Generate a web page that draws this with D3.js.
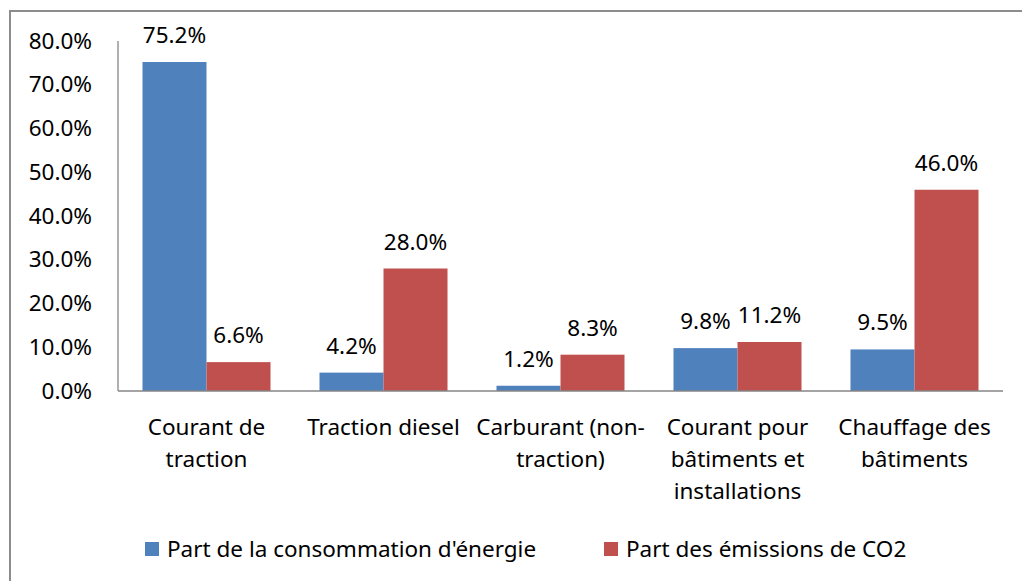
<!DOCTYPE html>
<html>
<head>
<meta charset="utf-8">
<script src="https://cdn.jsdelivr.net/npm/d3@7"></script>
<style>
  body { margin: 0; background: #fff; }
  svg { display: block; }
  text { font-family: "Noto Sans", sans-serif; fill: #000; }
</style>
</head>
<body>
<div id="chart"></div>
<script>
// Données du graphique
const categories = ["Courant de traction", "Traction diesel", "Carburant (non-traction)", "Courant pour bâtiments et installations", "Chauffage des bâtiments"];
const categoryLines = [["Courant de", "traction"], ["Traction diesel"], ["Carburant (non-", "traction)"], ["Courant pour", "bâtiments et", "installations"], ["Chauffage des", "bâtiments"]];
const seriesNames = ["Part de la consommation d'énergie", "Part des émissions de CO2"];
const energie = [75.2, 4.2, 1.2, 9.8, 9.5];
const co2 = [6.6, 28.0, 8.3, 11.2, 46.0];
const yTicks = [0, 10, 20, 30, 40, 50, 60, 70, 80];
const colors = ["#4F81BD", "#C0504D"];

const width = 1022, height = 581;
const plot = { l: 118, r: 1003, t: 41, b: 391 };
const fs = '22.5px';

const svg = d3.select('#chart').append('svg')
    .attr('width', width).attr('height', height);

// cadre
svg.append('rect')
    .attr('x', 10).attr('y', 11)
    .attr('width', width + 20).attr('height', height + 20)
    .attr('fill', 'none').attr('stroke', '#8c8c8c').attr('stroke-width', 2);

const x0 = d3.scaleBand().domain(categories).range([plot.l, plot.r]).padding(0);
const bw = x0.bandwidth();
const x1 = d3.scaleBand().domain(seriesNames).range([bw * 0.1384, bw * 0.8616]).padding(0);
const y = d3.scaleLinear().domain([0, 80]).range([plot.b, plot.t]);

// axe Y (étiquettes seulement)
const yAxis = svg.append('g')
    .attr('transform', `translate(${plot.l},0)`)
    .call(d3.axisLeft(y).tickValues(yTicks).tickSize(0).tickPadding(26)
        .tickFormat(d => d.toFixed(1) + '%'));
yAxis.select('.domain').remove();
yAxis.selectAll('text').style('font-size', fs).style('font-family', '"Noto Sans", sans-serif').attr('fill', '#000');

// barres
const data = categories.map((c, i) => ({ cat: c, vals: [energie[i], co2[i]] }));
const groups = svg.selectAll('.grp').data(data).enter().append('g')
    .attr('transform', d => `translate(${x0(d.cat)},0)`);

groups.selectAll('rect')
    .data(d => d.vals.map((v, k) => ({ name: seriesNames[k], v, k })))
    .enter().append('rect')
    .attr('x', d => x1(d.name))
    .attr('width', x1.bandwidth())
    .attr('y', d => y(d.v))
    .attr('height', d => y(0) - y(d.v))
    .attr('fill', d => colors[d.k]);

groups.selectAll('.lbl')
    .data(d => d.vals.map((v, k) => ({ name: seriesNames[k], v, k })))
    .enter().append('text')
    .attr('x', d => x1(d.name) + x1.bandwidth() / 2)
    .attr('y', d => y(d.v) - 19)
    .attr('text-anchor', 'middle')
    .style('font-size', fs)
    .text(d => d.v.toFixed(1) + '%');

// lignes d'axes
svg.append('line').attr('x1', plot.l).attr('x2', plot.l).attr('y1', plot.t).attr('y2', plot.b)
    .attr('stroke', '#868686').attr('stroke-width', 1.3);
svg.append('line').attr('x1', plot.l).attr('x2', plot.r).attr('y1', plot.b).attr('y2', plot.b)
    .attr('stroke', '#868686').attr('stroke-width', 1.3);

// étiquettes des catégories
categories.forEach((c, i) => {
    const t = svg.append('text')
        .attr('x', x0(c) + bw / 2)
        .attr('y', 435)
        .attr('text-anchor', 'middle')
        .style('font-size', fs);
    categoryLines[i].forEach((line, j) => {
        t.append('tspan').attr('x', x0(c) + bw / 2).attr('dy', j === 0 ? 0 : 32).text(line);
    });
});

// légende
const legendX = [145, 604];
seriesNames.forEach((s, k) => {
    svg.append('rect').attr('x', legendX[k]).attr('y', 542)
        .attr('width', 14).attr('height', 14).attr('fill', colors[k]);
    svg.append('text').attr('x', legendX[k] + 22).attr('y', 557)
        .style('font-size', fs).text(s);
});
</script>
</body>
</html>
